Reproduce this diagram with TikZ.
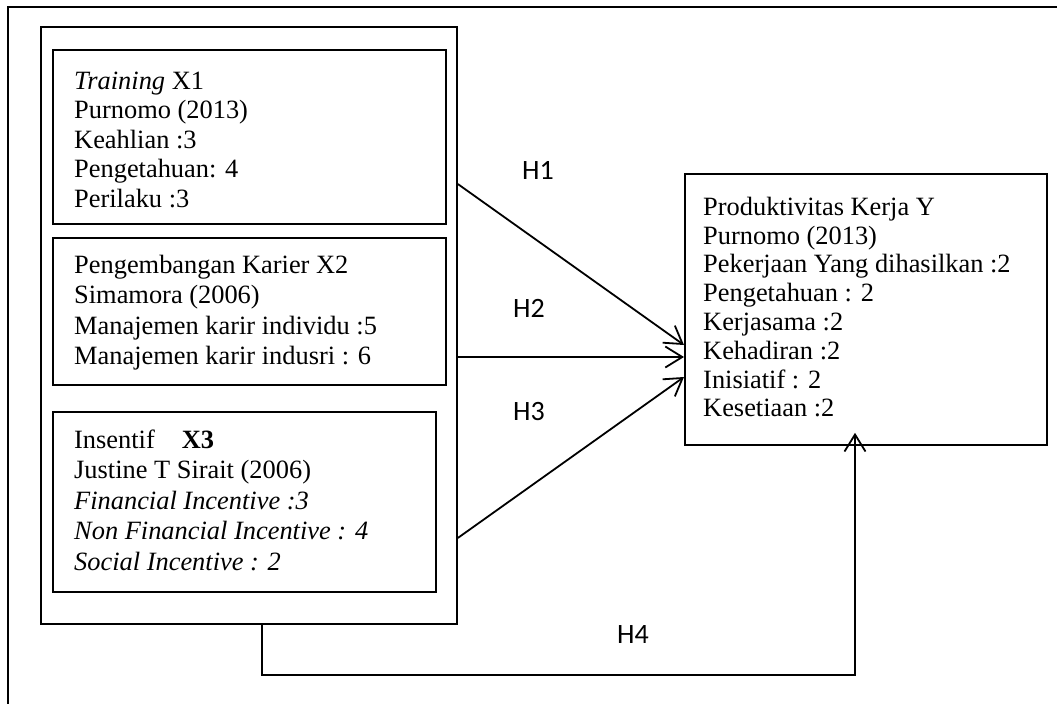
\documentclass[tikz,border=0pt]{standalone}
\usepackage{fontspec}
\setmainfont{Liberation Serif}
\newfontfamily\labfont{Carlito}
\usetikzlibrary{arrows.meta,calc}
\begin{document}
\begin{tikzpicture}[x=1pt,y=-1pt,
  frame/.style={line width=1.4pt},
  box/.style={draw, line width=1.8pt, inner sep=0pt, anchor=north west},
  txt/.style={inner sep=0pt, anchor=north west, align=left, font=\fontsize{26.4}{30.5}\selectfont},
  x1txt/.style={txt, font=\fontsize{26.4}{29.5}\selectfont},
  ytxt/.style={txt, font=\fontsize{26.4}{28.8}\selectfont},
  lab/.style={font=\labfont\fontsize{28}{32}\selectfont, inner sep=0pt},
  link/.style={line width=1.8pt},
  arr/.style={link, -{Straight Barb[length=17pt,width=21pt,line width=1.8pt]}}]
\useasboundingbox (0,0) rectangle (1057,704);
\draw[frame] (1057,7) -- (8,7) -- (8,704);

% container and boxes
\node[box, minimum width=416pt, minimum height=597pt] (cont) at (40,26) {};
\node[box, minimum width=393pt, minimum height=174pt] (x1) at (52,49) {};
\node[box, minimum width=393pt, minimum height=147pt] (x2) at (52,237) {};
\node[box, minimum width=383pt, minimum height=180pt] (x3) at (52,411) {};
\node[box, minimum width=362pt, minimum height=271pt] (y) at (684,173) {};

% texts
\node[x1txt] (t1) at (74,69) {\rule{0pt}{20pt}\textit{Training} X1\\Purnomo (2013)\\Keahlian :3\\Pengetahuan: 4\\Perilaku :3};
\node[txt] (t2) at (74,253) {\rule{0pt}{20pt}Pengembangan Karier X2\\Simamora (2006)\\Manajemen karir individu :5\\Manajemen karir indusri : 6};
\node[txt] (t3) at (74,428) {\rule{0pt}{20pt}Insentif\hspace{27pt}\textbf{X3}\\Justine T Sirait (2006)\\\textit{Financial Incentive :3}\\\textit{Non Financial Incentive : 4}\\\textit{Social Incentive : 2}};
\node[ytxt] (ty) at (703,195) {\rule{0pt}{20pt}Produktivitas Kerja Y\\Purnomo (2013)\\Pekerjaan Yang dihasilkan :2\\Pengetahuan : 2\\Kerjasama :2\\Kehadiran :2\\Inisiatif : 2\\Kesetiaan :2};

% connector points
\coordinate (s1) at ($(cont.north east)+(0,158)$);
\coordinate (s2) at ($(cont.north east)+(0,331)$);
\coordinate (s3) at ($(cont.north east)+(0,512)$);
\coordinate (e1) at ($(y.north west)+(0,172)$);
\coordinate (e2) at ($(y.north west)+(0,184)$);
\coordinate (e3) at ($(y.north west)+(0,204)$);
\coordinate (h4s) at ($(cont.south west)+(222,0)$);
\coordinate (h4a) at ($(h4s)+(0,50)$);
\coordinate (h4t) at ($(y.south west)+(171,-13)$);
\coordinate (h4b) at (h4a -| h4t);

\draw[arr] (s1) -- (e1);
\draw[arr] (s2) -- (e2);
\draw[arr] (s3) -- (e3);
\draw[arr] (h4s) -- (h4a) -- (h4b) -- (h4t);

% labels
\node[lab] (l1) at (538,170) {H1};
\node[lab] (l2) at (529,308) {H2};
\node[lab] (l3) at (529,412) {H3};
\node[lab] (l4) at (633,635) {H4};
\end{tikzpicture}
\end{document}
